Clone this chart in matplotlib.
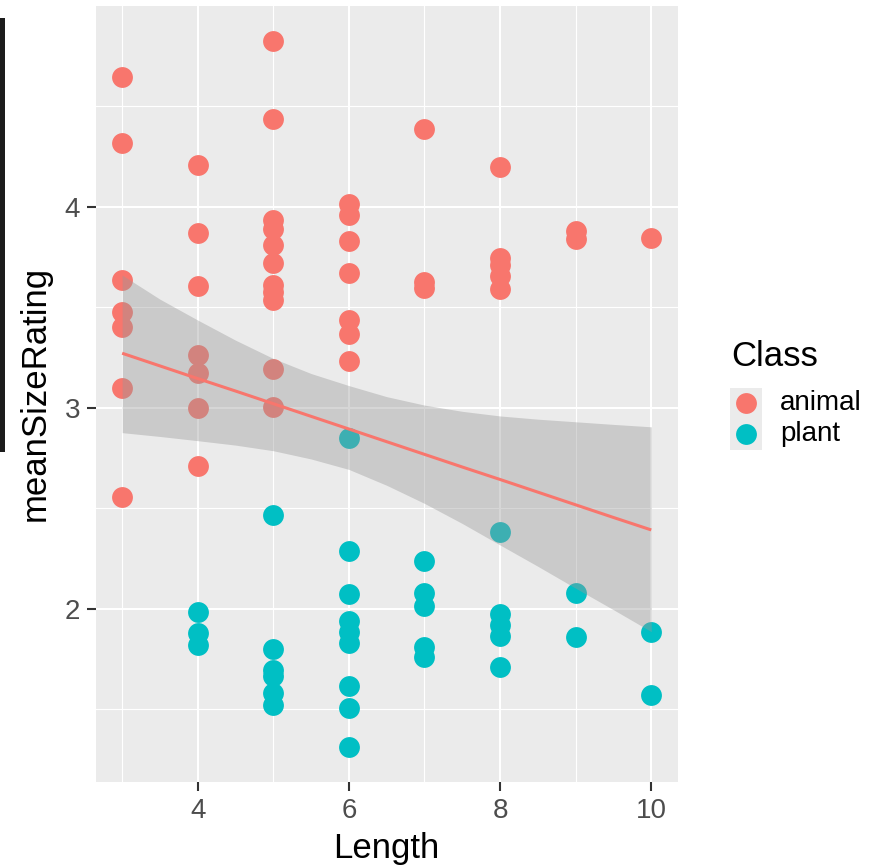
import matplotlib
matplotlib.use("Agg")
import matplotlib.pyplot as plt
from matplotlib.lines import Line2D
from matplotlib.patches import Rectangle

plt.rcParams["font.family"] = ["Liberation Sans", "DejaVu Sans"]

# --- data -------------------------------------------------------------
classes = ["animal", "plant"]
class_colors = ["#F8766D", "#00BFC4"]

animal_length = [3, 3, 3, 3, 3, 3, 3,
                 4, 4, 4, 4, 4, 4, 4,
                 5, 5, 5, 5, 5, 5, 5, 5, 5, 5, 5,
                 6, 6, 6, 6, 6, 6, 6,
                 7, 7, 7,
                 8, 8, 8, 8, 8,
                 9, 9,
                 10]
animal_rating = [4.647, 4.318, 3.635, 3.475, 3.403, 3.097, 2.554,
                 4.206, 3.871, 3.605, 3.262, 3.174, 2.997, 2.711,
                 4.824, 4.435, 3.934, 3.889, 3.809, 3.721, 3.610, 3.574, 3.536, 3.195, 3.005,
                 4.013, 3.959, 3.829, 3.669, 3.436, 3.367, 3.232,
                 4.387, 3.624, 3.597,
                 4.196, 3.746, 3.710, 3.655, 3.592,
                 3.881, 3.839,
                 3.843]

plant_length = [4, 4, 4,
                5, 5, 5, 5, 5, 5,
                6, 6, 6, 6, 6, 6, 6, 6, 6,
                7, 7, 7, 7, 7,
                8, 8, 8, 8, 8,
                9, 9,
                10, 10]
plant_rating = [1.982, 1.881, 1.819,
                2.466, 1.801, 1.695, 1.666, 1.582, 1.519,
                2.849, 2.287, 2.072, 1.940, 1.882, 1.828, 1.617, 1.505, 1.314,
                2.239, 2.078, 2.016, 1.812, 1.762,
                2.383, 1.974, 1.919, 1.864, 1.711,
                2.077, 1.861,
                1.882, 1.572]

# linear fit with its 95% confidence band
fit_length = [3, 3.5, 4, 4.5, 5, 5.5, 6, 6.5, 7, 7.5, 8, 8.5, 9, 9.5, 10]
fit_rating = [3.271, 3.208, 3.145, 3.083, 3.020, 2.957, 2.894, 2.831,
              2.768, 2.705, 2.643, 2.580, 2.517, 2.454, 2.392]
fit_lower = [2.876, 2.857, 2.836, 2.814, 2.786, 2.745, 2.693, 2.614,
             2.524, 2.424, 2.317, 2.211, 2.102, 1.995, 1.886]
fit_upper = [3.660, 3.540, 3.436, 3.336, 3.245, 3.170, 3.110, 3.055,
             3.013, 2.982, 2.959, 2.943, 2.930, 2.917, 2.905]

x_ticks = [4, 6, 8, 10]
y_ticks = [2, 3, 4]

# --- figure -----------------------------------------------------------
W, H = 884, 865
fig = plt.figure(figsize=(W / 100, H / 100), dpi=100)
fig.patch.set_facecolor("white")


def fx(px):
    return px / W


def fy(py):
    return 1 - py / H


ax = fig.add_axes([fx(95.7), fy(782), fx(677.7) - fx(95.7), fy(5.7) - fy(782)])
ax.set_facecolor("#EBEBEB")
for s in ax.spines.values():
    s.set_visible(False)

ax.set_xlim(2.65, 10.35)
ax.set_ylim(1.138, 5.0)
ax.set_xticks(x_ticks)
ax.set_yticks(y_ticks)
ax.set_xticks([3, 5, 7, 9], minor=True)
ax.set_yticks([1.5, 2.5, 3.5, 4.5], minor=True)
ax.grid(which="major", color="white", linewidth=1.5)
ax.grid(which="minor", color="white", linewidth=0.8)
ax.set_axisbelow(True)

ax.tick_params(which="major", length=6.3, width=1.5, color="#333333",
               labelcolor="#4D4D4D", labelsize=20, pad=5)
ax.tick_params(which="minor", length=0)

ax.scatter(animal_length, animal_rating, s=225, color=class_colors[0],
           linewidths=0, zorder=2)
ax.scatter(plant_length, plant_rating, s=225, color=class_colors[1],
           linewidths=0, zorder=2)

ax.fill_between(fit_length, fit_lower, fit_upper, color="#999999",
                alpha=0.4, linewidth=0, zorder=3)
ax.plot(fit_length, fit_rating, color=class_colors[0], linewidth=2.2,
        zorder=4, solid_capstyle="butt")

ax.set_xlabel("Length", fontsize=25, color="black", labelpad=6)
ax.set_ylabel("meanSizeRating", fontsize=25, color="black", labelpad=9)

# --- legend -----------------------------------------------------------
fig.text(fx(731), fy(356), "Class", fontsize=25, ha="left", va="center")
fig.patches.append(Rectangle((fx(730), fy(450)), fx(762) - fx(730),
                             fy(388) - fy(450), transform=fig.transFigure,
                             facecolor="#EBEBEB", edgecolor="none"))
key_y = [403, 434]
for cls, col, ky in zip(classes, class_colors, key_y):
    fig.add_artist(Line2D([fx(746)], [fy(ky)], marker="o", markersize=15,
                          markerfacecolor=col, markeredgewidth=0,
                          linestyle="none", transform=fig.transFigure))
    fig.text(fx(780), fy(ky), cls, fontsize=20, ha="left", va="center")

# dark strip along the left edge
fig.patches.append(Rectangle((0, fy(452)), fx(5), fy(18) - fy(452),
                             transform=fig.transFigure,
                             facecolor="#1C1C1C", edgecolor="none"))

fig.savefig("out.png", dpi=100)
